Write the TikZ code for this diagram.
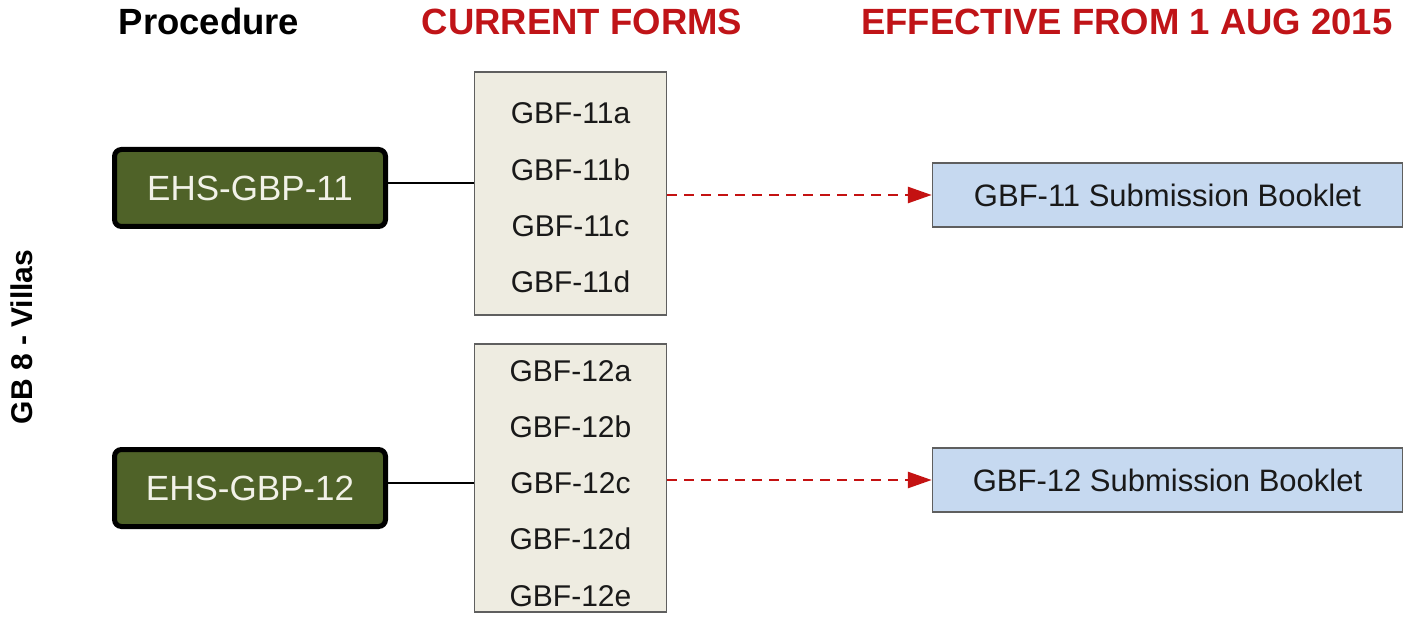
\documentclass[tikz,border=0pt]{standalone}
\usepackage{fontspec}
\setmainfont{Liberation Sans}
\usetikzlibrary{arrows.meta}
\definecolor{headred}{RGB}{192,20,24}
\definecolor{procgreen}{RGB}{79,98,40}
\definecolor{procwhite}{RGB}{242,242,232}
\definecolor{formfill}{RGB}{238,236,225}
\definecolor{formborder}{RGB}{95,95,95}
\definecolor{bookfill}{RGB}{198,217,240}
\definecolor{arrowred}{RGB}{196,18,18}
\definecolor{textdark}{RGB}{25,25,25}
\begin{document}
\begin{tikzpicture}[x=1pt,y=-1pt,
  heading/.style={font=\fontsize{36.5}{44}\selectfont\bfseries, inner sep=0pt, anchor=base},
  procbox/.style={draw=black, line width=5pt, rounded corners=7pt, fill=procgreen, text=procwhite, minimum width=271pt, minimum height=77pt, inner sep=0pt, font=\fontsize{35}{42}\selectfont},
  formbox/.style={draw=formborder, line width=1.5pt, fill=formfill, minimum width=192pt, inner sep=0pt},
  formtext/.style={font=\fontsize{30}{36}\selectfont, text=textdark, inner sep=0pt},
  bookbox/.style={draw=formborder, line width=1.5pt, fill=bookfill, minimum width=470pt, minimum height=64pt, inner sep=0pt, font=\fontsize{31}{37}\selectfont, text=textdark},
  link/.style={line width=2.5pt, black},
  dasharrow/.style={arrowred, line width=2.8pt, dash pattern=on 10pt off 7pt, -{Triangle[length=24pt,width=16pt]}}]
\useasboundingbox[fill=white] (0,0) rectangle (1411,617);

% headings
\node[heading, text=black] (hproc) at (209,35) {Procedure};
\node[heading, text=headred] (hcur) at (582,35) {CURRENT FORMS};
\node[heading, text=headred, anchor=base west] (heff) at (861,35) {EFFECTIVE FROM 1 AUG 2015};

% side label
\node[rotate=90, font=\fontsize{30}{36}\selectfont\bfseries, inner sep=0pt] (side) at (22,337) {GB 8 - Villas};

% procedures
\node[procbox] (ehs11) at (250,188) {EHS-GBP-11};
\node[procbox] (ehs12) at (250,488) {EHS-GBP-12};

% form boxes
\node[formbox, minimum height=243pt] (forms11) at (570.5,193.5) {};
\node[formbox, minimum height=268pt] (forms12) at (570.5,478) {};

\node[formtext] (f11a) at (570.5,113) {GBF-11a};
\node[formtext] (f11b) at (570.5,170) {GBF-11b};
\node[formtext] (f11c) at (570.5,226) {GBF-11c};
\node[formtext] (f11d) at (570.5,282) {GBF-11d};

\node[formtext] (f12a) at (570.5,371) {GBF-12a};
\node[formtext] (f12b) at (570.5,427) {GBF-12b};
\node[formtext] (f12c) at (570.5,483) {GBF-12c};
\node[formtext] (f12d) at (570.5,539) {GBF-12d};
\node[formtext] (f12e) at (570.5,596) {GBF-12e};

% booklets
\node[bookbox] (book11) at (1167.5,195) {GBF-11 Submission Booklet};
\node[bookbox] (book12) at (1167.5,480) {GBF-12 Submission Booklet};

% connectors
\draw[link] ([yshift=5pt]ehs11.east) -- ([yshift=5pt]ehs11.east -| forms11.west);
\draw[link] ([yshift=5pt]ehs12.east) -- ([yshift=5pt]ehs12.east -| forms12.west);
\draw[dasharrow] (forms11.east |- book11.west) -- (book11.west);
\draw[dasharrow] (forms12.east |- book12.west) -- (book12.west);
\end{tikzpicture}
\end{document}
